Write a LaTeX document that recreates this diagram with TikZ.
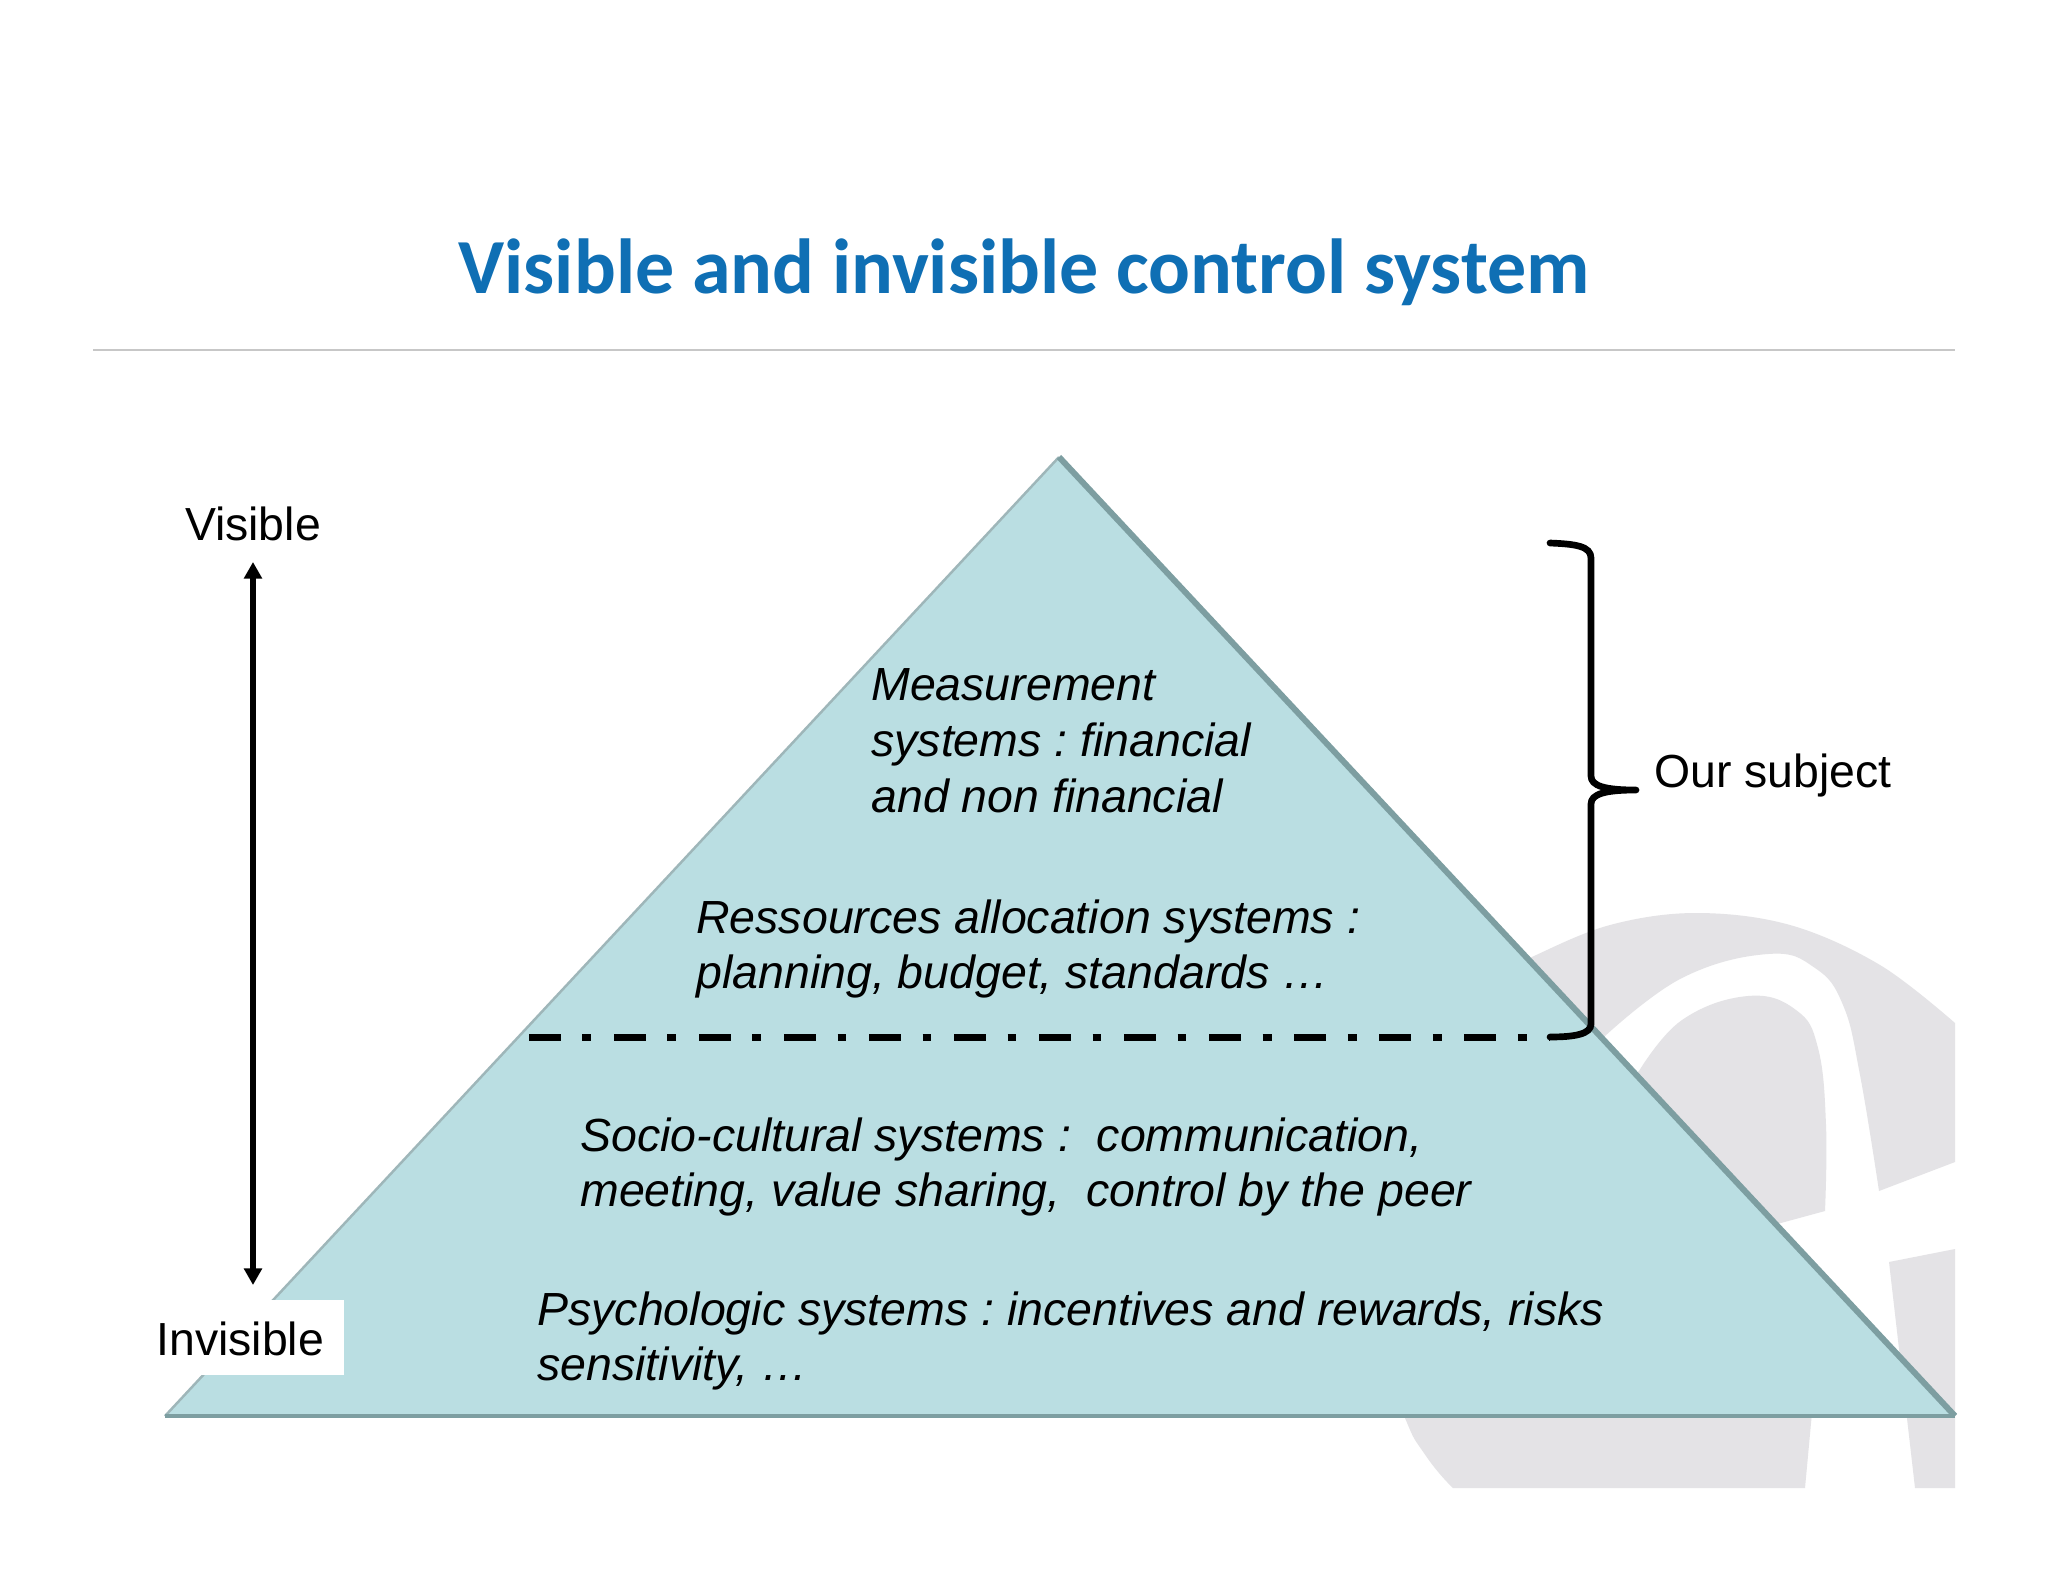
\documentclass[tikz,border=0pt]{standalone}
\usepackage{fontspec}
\setmainfont{Liberation Sans}
\newfontfamily\titlefont{Carlito}
\usetikzlibrary{arrows.meta}
\definecolor{titleblue}{HTML}{0F6FB4}
\definecolor{pyramidfill}{HTML}{BADEE2}
\definecolor{pyramidedge}{HTML}{7D9EA1}
\definecolor{logogray}{HTML}{E4E3E6}
\tikzset{
  bodytext/.style={anchor=west, align=left, inner sep=0pt, font=\fontsize{26.45}{31.8}\selectfont\itshape},
  sidetext/.style={inner sep=0pt, font=\fontsize{26.4}{31.8}\selectfont},
  logopart/.style={fill=logogray, draw=none},
}
\begin{document}
\frenchspacing
\begin{tikzpicture}[x=0.02cm, y=-0.02cm]
\useasboundingbox (0,0) rectangle (2048,1582);
\fill[white] (0,0) rectangle (2048,1582);
%logo behind the pyramid
\fill[logopart] plot[smooth, tension=0.6] coordinates {(1500,975) (1534,956) (1610,925) (1696,913) (1790,925) (1880,965) (1955,1023)} -- (1955,1162) -- (1879,1191) -- plot[smooth, tension=0.7] coordinates {(1879,1191) (1860,1075) (1843,1005) (1815,968) (1768,954) (1682,978) (1605,1036)} -- cycle;
\fill[logopart] plot[smooth, tension=0.7] coordinates {(1639,1071) (1682,1020) (1748,996) (1796,1010) (1818,1048) (1826,1125) (1825,1211)} -- (1700,1245) -- (1600,1100) -- cycle;
\fill[logopart] plot[smooth, tension=1] coordinates {(1390,1370) (1405,1418) (1426,1456) (1453,1488)} -- (1805,1488) -- (1815,1380) -- cycle;
\fill[logopart] (1889,1262) -- (1955,1249) -- (1955,1488) -- (1915,1488) -- cycle;
%header
\node[font=\titlefont\bfseries\fontsize{44.4}{54}\selectfont, text=titleblue, inner sep=0pt] (title) at (1024,272) {Visible and invisible control system};
\coordinate (ruleleft) at (93,350);
\coordinate (ruleright) at (1955,350);
\draw[black!22, line width=1pt] (ruleleft) -- (ruleright);
%pyramid
\coordinate (apex) at (1059,457);
\coordinate (baseleft) at (165,1416);
\coordinate (baseright) at (1955,1416);
\fill[pyramidfill] (apex) -- (baseright) -- (baseleft) -- cycle;
\draw[pyramidedge!75, line width=1.4pt] (baseleft) -- (apex);
\draw[pyramidedge, line width=2.2pt] (baseleft) -- (baseright);
\draw[pyramidedge, line width=3.4pt, line join=round] (apex) -- (baseright);
%white box behind the label
\node[fill=white, minimum width=116pt, minimum height=42.5pt, inner sep=0pt, anchor=south east] (invisiblebox) at (344,1375) {};
\node[sidetext, anchor=base west] (invisible) at (156,1355) {Invisible};
\node[sidetext] (visible) at (253,524) {Visible};
\node[sidetext, anchor=west] (subject) at (1654,775) {Our subject};
\coordinate (arrowtop) at (253,562);
\coordinate (arrowbottom) at (253,1285);
\draw[{Triangle[length=9.5pt,width=10pt]}-{Triangle[length=9.5pt,width=10pt]}, line width=3pt] (arrowtop) -- (arrowbottom);
%text of the levels
\node[bodytext] (measure) at (871,741) {Measurement\\systems : financial\\and non financial};
\node[bodytext] (resource) at (696,949) {Ressources allocation systems :\\planning, budget, standards \dots};
\node[bodytext] (social) at (580,1167) {Socio-cultural systems :~ communication,\\meeting, value sharing,~ control by the peer};
\node[bodytext] (psycho) at (537,1341) {Psychologic systems : incentives and rewards, risks\\sensitivity, \dots};
%separator and brace
\coordinate (sepleft) at (529,1037);
\coordinate (sepright) at (1550,1037);
\draw[line width=4pt, dash pattern=on 18pt off 12.4pt on 5pt off 13pt] (sepleft) -- (sepright);
\coordinate (bracetop) at (1550,543);
\coordinate (bracetip) at (1636,790);
\draw[line width=3.8pt, line cap=round, line join=round] (bracetop) .. controls (1575,544) and (1591,546) .. (1591,558) -- (1591,776) .. controls (1591,786) and (1605,790) .. (bracetip) .. controls (1605,790) and (1591,794) .. (1591,804) -- (1591,1024) .. controls (1591,1034) and (1575,1037) .. (sepright);
\end{tikzpicture}
\end{document}
